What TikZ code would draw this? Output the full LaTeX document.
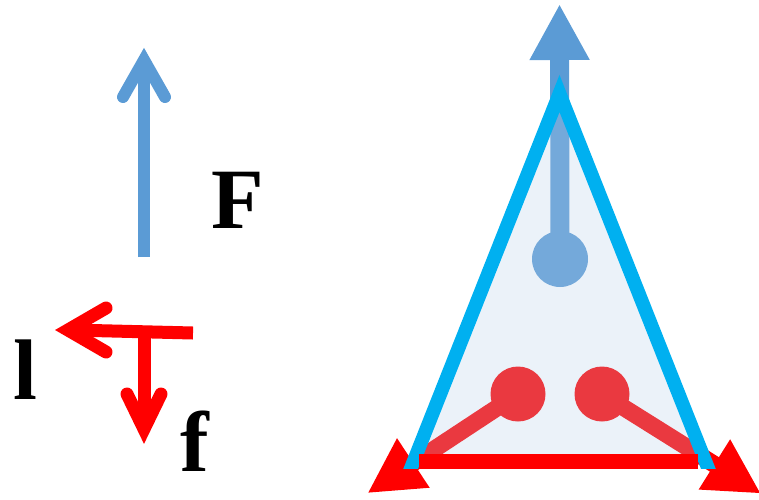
\documentclass[tikz,border=0pt]{standalone}
\usepackage{fontspec}
\setmainfont{Liberation Serif}
\usetikzlibrary{arrows.meta}
\definecolor{fblue}{RGB}{91,155,213}
\definecolor{tcyan}{RGB}{0,176,240}
\definecolor{tfill}{RGB}{183,208,233}
\definecolor{pred}{RGB}{255,0,0}
\begin{document}
\begin{tikzpicture}[x=1pt,y=-1pt,
  chev/.style={line cap=round, line join=miter},
  lbl/.style={inner sep=0pt, anchor=base, font=\fontsize{86}{86}\selectfont\bfseries},
  bigtip/.style={-{Triangle[length=#1,width=#1]}}]
\useasboundingbox (0,0) rectangle (759,499);
% left: F arrow
\coordinate (Fbot) at (144,257);
\coordinate (Fv) at (144,60);
\coordinate (Fl) at (123,97);
\coordinate (Fr) at (165,97);
\draw[fblue, line width=12pt] (Fbot) -- (144,64);
\draw[fblue, line width=12pt, chev] (Fl) -- (Fv) -- (Fr);
% left: l and f arrows
\coordinate (Lr) at (193,333);
\coordinate (Lv) at (68,330);
\coordinate (Lu) at (106,308);
\coordinate (Ld) at (106,352);
\draw[pred, line width=13pt] (Lr) -- (72,330);
\draw[pred, line width=13pt, chev] (Lu) -- (Lv) -- (Ld);
\coordinate (Dt) at (144,333);
\coordinate (Dv) at (144,429);
\coordinate (Dl) at (127,394);
\coordinate (Dr) at (161,394);
\draw[pred, line width=13pt] (Dt) -- (144,424);
\draw[pred, line width=13pt, chev] (Dl) -- (Dv) -- (Dr);
\node[lbl] (F) at (238,228) {F};
\node[lbl] (l) at (25,399) {l};
\node[lbl] (f) at (195,471) {f};
% right: triangle
\coordinate (ballB) at (560,259);
\coordinate (tipB) at (559.5,4);
\coordinate (ballL) at (518,394);
\coordinate (tipL) at (367.4,493.2);
\coordinate (ballR) at (602,394);
\coordinate (tipR) at (761,493.6);
\draw[fblue, line width=19pt, bigtip=56pt] (ballB) -- (tipB);
\fill[fblue] (ballB) circle (28);
\draw[pred, line width=17pt, bigtip=55pt] (ballL) -- (tipL);
\draw[pred, line width=17pt, bigtip=55pt] (ballR) -- (tipR);
\fill[pred] (ballL) circle (27.5);
\fill[pred] (ballR) circle (27.5);
\coordinate (apex) at (559.5,93.5);
\coordinate (bl) at (413.8,461);
\coordinate (br) at (705.2,461);
\fill[tfill, fill opacity=0.28] (apex) -- (bl) -- (br) -- cycle;
\begin{scope}
\clip (0,0) rectangle (759,468);
\coordinate (el) at (408.2,475);
\coordinate (er) at (710.8,475);
\draw[tcyan, line width=13.7pt, line join=miter] (el) -- (apex) -- (er);
\end{scope}
\coordinate (barL) at (419,461.5);
\coordinate (barR) at (698,461.5);
\draw[pred, line width=15pt] (barL) -- (barR);
\end{tikzpicture}
\end{document}
